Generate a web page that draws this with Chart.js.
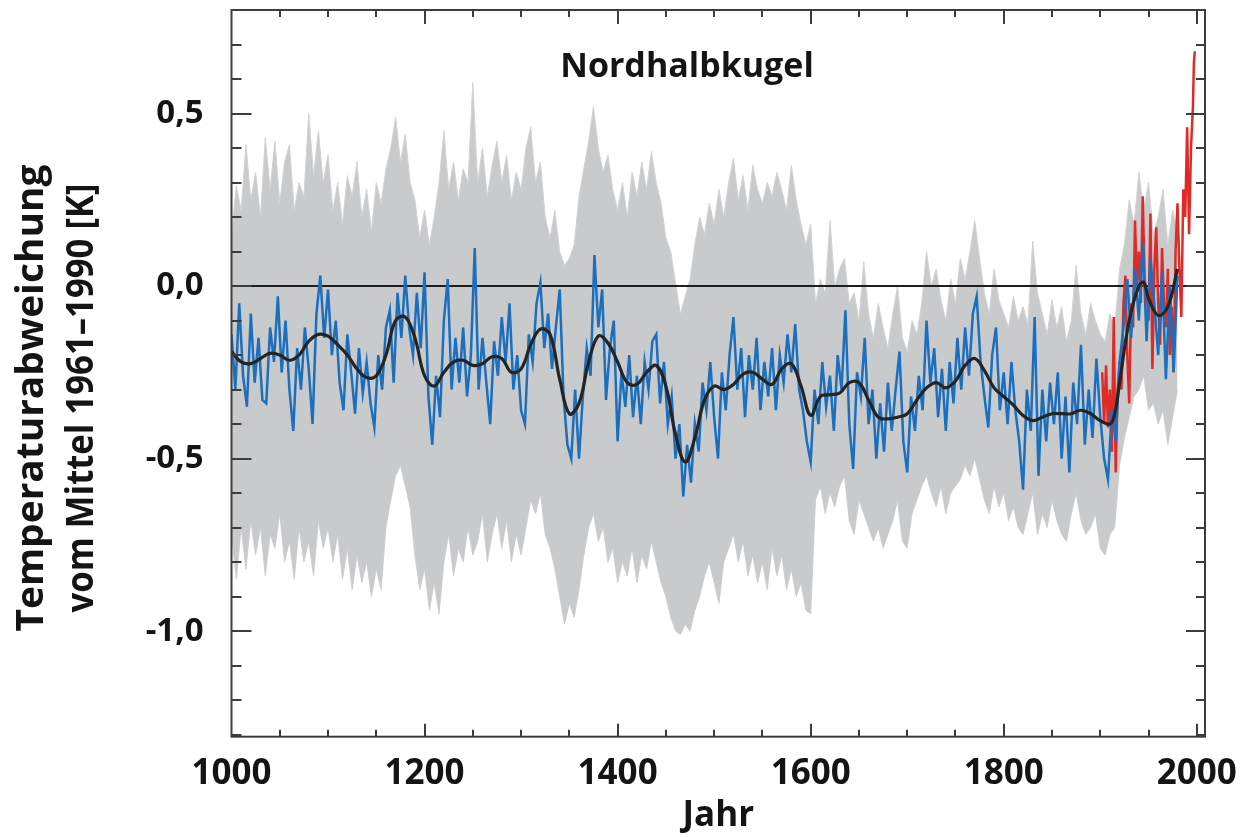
<!DOCTYPE html>
<html><head><meta charset="utf-8">
<script src="https://cdn.jsdelivr.net/npm/chart.js@4.4.0/dist/chart.umd.min.js"></script>
<style>html,body{margin:0;padding:0;background:#fff;overflow:hidden;}</style>
</head><body>
<canvas id="c" width="1252" height="837"></canvas>
<script>
const chartTitle = 'Nordhalbkugel';
const xTitle = 'Jahr';
const yTitleLines = ['Temperaturabweichung', 'vom Mittel 1961–1990 [K]'];
const xTickValues = [1000, 1200, 1400, 1600, 1800, 2000];
const yTickValues = [-1.0, -0.5, 0.0, 0.5];

// Rekonstruktion (blau), alle 4 Jahre ab 1000
const reconStart = 1000, reconStep = 4;
const reconstruction = [
-0.14,-0.30,-0.05,-0.26,-0.35,-0.08,-0.28,-0.15,-0.33,-0.34,-0.12,-0.22,-0.03,-0.25,-0.10,-0.30,-0.42,-0.18,-0.30,-0.12,-0.24,-0.40,-0.08,0.03,-0.15,
-0.01,-0.20,-0.10,-0.28,-0.36,-0.14,-0.25,-0.37,-0.18,-0.31,-0.22,-0.34,-0.41,-0.20,-0.30,-0.12,-0.07,-0.28,-0.02,-0.15,0.03,-0.12,-0.20,-0.02,-0.18,
0.04,-0.32,-0.46,-0.26,-0.38,-0.10,0.02,-0.30,-0.15,-0.28,-0.12,-0.32,-0.20,0.11,-0.30,-0.15,-0.28,-0.40,-0.16,-0.26,-0.09,-0.22,-0.05,-0.30,-0.20,
-0.36,-0.40,-0.14,-0.22,-0.05,0.01,-0.18,-0.08,-0.24,-0.12,-0.01,-0.32,-0.46,-0.50,-0.30,-0.50,-0.32,-0.18,-0.26,0.09,-0.12,-0.01,-0.33,-0.18,-0.10,
-0.45,-0.25,-0.35,-0.20,-0.38,-0.26,-0.40,-0.22,-0.30,-0.16,-0.14,-0.34,-0.22,-0.40,-0.32,-0.50,-0.40,-0.61,-0.46,-0.57,-0.40,-0.48,-0.28,-0.36,-0.22,
-0.38,-0.50,-0.25,-0.36,-0.20,-0.09,-0.30,-0.18,-0.38,-0.20,-0.30,-0.15,-0.36,-0.22,-0.32,-0.18,-0.36,-0.20,-0.28,-0.14,-0.25,-0.11,-0.30,-0.36,-0.45,
-0.51,-0.30,-0.40,-0.22,-0.35,-0.26,-0.42,-0.20,-0.30,-0.07,-0.40,-0.53,-0.25,-0.32,-0.15,-0.40,-0.30,-0.50,-0.34,-0.48,-0.28,-0.42,-0.30,-0.19,-0.45,
-0.54,-0.32,-0.42,-0.26,-0.36,-0.10,-0.28,-0.18,-0.38,-0.24,-0.42,-0.22,-0.34,-0.15,-0.30,-0.12,-0.26,-0.08,-0.03,-0.22,-0.32,-0.41,-0.20,-0.12,-0.36,
-0.25,-0.40,-0.22,-0.36,-0.45,-0.59,-0.30,-0.42,-0.09,-0.55,-0.30,-0.45,-0.28,-0.40,-0.25,-0.50,-0.32,-0.54,-0.28,-0.40,-0.17,-0.46,-0.30,-0.44,-0.21,
-0.38,-0.50,-0.56,-0.36,-0.45,-0.22,-0.12,0.02,-0.15,0.05,-0.10,0.13,-0.16,0.08,-0.05,-0.20,0.04,-0.27,0.00,-0.25,0.03
];

// Unsicherheitsband (grau), alle 5 Jahre ab 1000
const bandStart = 1000, bandStep = 5;
const bandUpper = [
0.15,0.29,0.22,0.41,0.25,0.33,0.20,0.43,0.28,0.42,0.24,0.36,0.41,0.22,0.30,0.26,0.50,0.32,0.45,0.30,
0.38,0.22,0.30,0.18,0.32,0.26,0.36,0.20,0.28,0.16,0.30,0.24,0.34,0.40,0.49,0.36,0.44,0.30,0.25,0.14,
0.22,0.12,0.20,0.30,0.45,0.28,0.36,0.25,0.34,0.30,0.59,0.30,0.40,0.26,0.35,0.42,0.30,0.38,0.25,0.33,
0.28,0.40,0.46,0.30,0.36,0.20,0.14,0.22,0.10,0.06,0.08,0.12,0.26,0.34,0.42,0.52,0.40,0.33,0.38,0.28,
0.22,0.30,0.20,0.33,0.26,0.36,0.28,0.39,0.30,0.24,0.14,0.10,0.01,-0.08,-0.03,0.02,0.12,0.20,0.15,0.24,
0.18,0.28,0.20,0.30,0.37,0.25,0.32,0.22,0.35,0.28,0.24,0.30,0.26,0.33,0.28,0.22,0.35,0.25,0.18,0.12,
0.18,-0.05,0.02,-0.02,0.19,0.00,0.05,0.08,-0.05,-0.02,-0.10,0.07,-0.08,-0.15,-0.05,-0.12,-0.18,-0.08,0.00,-0.15,
-0.19,-0.10,-0.14,-0.05,0.10,0.00,0.05,-0.04,-0.10,0.02,-0.05,0.08,0.02,0.10,0.19,0.08,-0.02,-0.08,0.05,-0.04,
-0.08,-0.12,-0.03,-0.10,-0.06,-0.11,0.13,-0.02,-0.08,-0.14,-0.04,-0.12,-0.06,-0.16,-0.10,0.06,-0.08,-0.14,-0.05,-0.10,
-0.14,-0.16,-0.08,-0.12,0.05,0.12,0.25,0.18,0.33,0.22,0.30,0.15,0.20,0.28,0.12,0.22,0.16
];
const bandLower = [
-0.72,-0.85,-0.70,-0.82,-0.68,-0.78,-0.70,-0.84,-0.72,-0.76,-0.66,-0.80,-0.74,-0.85,-0.70,-0.80,-0.74,-0.84,-0.68,-0.76,
-0.70,-0.80,-0.72,-0.85,-0.76,-0.88,-0.78,-0.86,-0.80,-0.90,-0.82,-0.88,-0.70,-0.62,-0.55,-0.52,-0.58,-0.64,-0.78,-0.88,
-0.82,-0.94,-0.86,-0.95,-0.80,-0.72,-0.84,-0.76,-0.80,-0.70,-0.78,-0.74,-0.66,-0.80,-0.72,-0.66,-0.76,-0.68,-0.80,-0.72,
-0.78,-0.70,-0.62,-0.66,-0.60,-0.72,-0.76,-0.82,-0.90,-0.98,-0.92,-0.96,-0.88,-0.78,-0.70,-0.66,-0.74,-0.70,-0.80,-0.76,
-0.86,-0.80,-0.84,-0.76,-0.86,-0.78,-0.82,-0.74,-0.80,-0.86,-0.90,-0.96,-1.00,-1.01,-0.98,-1.00,-0.94,-0.90,-0.84,-0.80,
-0.86,-0.92,-0.80,-0.76,-0.72,-0.80,-0.74,-0.84,-0.78,-0.86,-0.80,-0.88,-0.76,-0.84,-0.78,-0.88,-0.82,-0.90,-0.86,-0.94,
-0.95,-0.62,-0.58,-0.66,-0.60,-0.64,-0.58,-0.55,-0.68,-0.72,-0.62,-0.66,-0.70,-0.74,-0.70,-0.76,-0.72,-0.68,-0.62,-0.74,
-0.76,-0.66,-0.62,-0.58,-0.55,-0.60,-0.64,-0.58,-0.66,-0.60,-0.58,-0.56,-0.52,-0.55,-0.50,-0.56,-0.62,-0.66,-0.58,-0.64,
-0.60,-0.68,-0.64,-0.70,-0.72,-0.66,-0.60,-0.72,-0.66,-0.70,-0.62,-0.68,-0.72,-0.74,-0.66,-0.60,-0.68,-0.72,-0.70,-0.66,
-0.76,-0.78,-0.72,-0.70,-0.52,-0.44,-0.38,-0.32,-0.30,-0.26,-0.36,-0.34,-0.40,-0.36,-0.46,-0.38,-0.30
];

// Geglättete Kurve (schwarz)
const smoothYears = [1000,1010,1020,1030,1040,1050,1060,1070,1080,1090,1100,1110,1120,1130,1140,1150,1160,1170,1180,1190,
1200,1210,1220,1230,1240,1250,1260,1270,1280,1290,1300,1310,1320,1330,1340,1350,1360,1370,1380,1390,
1400,1410,1420,1430,1440,1450,1460,1470,1480,1490,1500,1510,1520,1530,1540,1550,1560,1570,1580,1590,
1600,1610,1620,1630,1640,1650,1660,1670,1680,1690,1700,1710,1720,1730,1740,1750,1760,1770,1780,1790,
1800,1810,1820,1830,1840,1850,1860,1870,1880,1890,1900,1910,1915,1920,1930,1940,1945,1950,1960,1970,1980];
const smoothValues = [-0.19,-0.22,-0.225,-0.21,-0.195,-0.20,-0.215,-0.20,-0.16,-0.14,-0.145,-0.17,-0.20,-0.24,-0.265,-0.26,-0.20,-0.10,-0.09,-0.15,
-0.26,-0.29,-0.25,-0.22,-0.215,-0.23,-0.225,-0.205,-0.21,-0.25,-0.24,-0.17,-0.125,-0.14,-0.27,-0.37,-0.34,-0.22,-0.145,-0.165,
-0.22,-0.28,-0.285,-0.25,-0.23,-0.29,-0.43,-0.51,-0.44,-0.33,-0.29,-0.30,-0.285,-0.255,-0.25,-0.27,-0.285,-0.24,-0.225,-0.29,
-0.375,-0.32,-0.315,-0.31,-0.28,-0.28,-0.33,-0.38,-0.385,-0.38,-0.37,-0.33,-0.295,-0.28,-0.295,-0.275,-0.23,-0.21,-0.245,-0.295,
-0.32,-0.345,-0.375,-0.39,-0.38,-0.37,-0.37,-0.37,-0.36,-0.37,-0.39,-0.40,-0.37,-0.28,-0.10,0.00,0.01,-0.035,-0.085,-0.06,0.05];

// Instrumentelle Messungen (rot)
const instrYears = [1902,1904,1906,1908,1910,1912,1914,1916,1918,1920,1922,1924,1926,1928,1930,1932,1934,1936,1938,1940,
1942,1944,1946,1948,1950,1952,1954,1956,1958,1960,1962,1964,1966,1968,1970,1972,1974,1976,1978,1980,
1982,1984,1986,1988,1990,1992,1994,1996,1997,1998];
const instrValues = [-0.25,-0.40,-0.23,-0.41,-0.30,-0.48,-0.09,-0.54,-0.30,-0.22,-0.30,-0.05,0.03,-0.20,-0.34,-0.05,-0.12,0.19,0.00,0.10,
-0.05,0.26,0.02,-0.02,-0.10,0.21,-0.24,0.05,0.17,-0.05,-0.17,0.11,-0.05,-0.12,0.05,-0.20,-0.06,-0.25,0.10,0.24,
0.05,-0.09,0.28,0.20,0.46,0.15,0.40,0.52,0.65,0.68];

const FONT = '"Open Sans", "DejaVu Sans", sans-serif';
const X_MIN = 1000, X_MAX = 2008.5, Y_MIN = -1.306, Y_MAX = 0.8;

function seriesFromStep(start, step, vals) { return vals.map((v, i) => ({ x: start + i * step, y: v })); }
function seriesFromPairs(xs, ys) { return xs.map((x, i) => ({ x: x, y: ys[i] })); }

const decorPlugin = {
  id: 'decor',
  afterDraw(chart) {
    const ctx = chart.ctx, a = chart.chartArea, xs = chart.scales.x, ys = chart.scales.y;
    ctx.save();
    ctx.strokeStyle = '#3c3c3c';
    ctx.lineWidth = 2;
    ctx.strokeRect(a.left, a.top, a.right - a.left, a.bottom - a.top);
    ctx.beginPath();
    for (let yr = 1050; yr < X_MAX; yr += 50) {
      const px = Math.round(xs.getPixelForValue(yr));
      const major = yr % 200 === 0;
      ctx.moveTo(px, a.bottom); ctx.lineTo(px, a.bottom - (major ? 13 : 7));
      ctx.moveTo(px, a.top); ctx.lineTo(px, a.top + (major ? 14 : 7));
    }
    for (let k = -13; k <= 8; k++) {
      const v = k / 10;
      const py = Math.round(ys.getPixelForValue(v));
      if (py <= a.top + 1 || py >= a.bottom - 1) continue;
      const major = k % 5 === 0;
      ctx.moveTo(a.left, py); ctx.lineTo(a.left + (major ? 20 : 10), py);
      ctx.moveTo(a.right, py); ctx.lineTo(a.right - (major ? 19 : 9), py);
    }
    ctx.stroke();

    ctx.fillStyle = '#141414';
    ctx.textAlign = 'center';
    ctx.textBaseline = 'alphabetic';
    ctx.font = 'bold 34px ' + FONT;
    ctx.fillText(chartTitle, 687, 77);

    ctx.font = 'bold 35px ' + FONT;
    ctx.fillText(xTitle, (a.left + a.right) / 2, 826);

    // y axis title, two rotated lines fitted to the reference lengths
    const targets = [[43, 467], [93, 429]];
    ctx.font = 'bold 38px ' + FONT;
    yTitleLines.forEach((t, i) => {
      const w = ctx.measureText(t).width;
      ctx.save();
      ctx.translate(targets[i][0], 398);
      ctx.rotate(-Math.PI / 2);
      ctx.scale(targets[i][1] / w, 1);
      ctx.fillText(t, 0, 0);
      ctx.restore();
    });
    ctx.restore();
  }
};

new Chart(document.getElementById('c'), {
  type: 'line',
  data: {
    datasets: [
      { data: seriesFromPairs(smoothYears, smoothValues), borderColor: '#242424', borderWidth: 3.2, pointRadius: 0, tension: 0.4, fill: false },
      { data: seriesFromStep(reconStart, reconStep, reconstruction), borderColor: '#1c6fbd', borderWidth: 2.5, pointRadius: 0, tension: 0, fill: false },
      { data: seriesFromPairs(instrYears, instrValues), borderColor: '#de2b27', borderWidth: 2.5, pointRadius: 0, tension: 0, fill: false },
      { data: [{ x: X_MIN, y: 0 }, { x: X_MAX, y: 0 }], borderColor: '#1e1e1e', borderWidth: 2, pointRadius: 0, fill: false },
      { data: seriesFromStep(bandStart, bandStep, bandUpper), borderColor: '#d2d3d5', borderWidth: 1, pointRadius: 0, tension: 0, backgroundColor: '#c9cacc', fill: '+1' },
      { data: seriesFromStep(bandStart, bandStep, bandLower), borderColor: '#d2d3d5', borderWidth: 1, pointRadius: 0, tension: 0, fill: false }
    ]
  },
  options: {
    responsive: false,
    animation: false,
    devicePixelRatio: 1,
    layout: { padding: { left: 0, right: 47, top: 10, bottom: 0 } },
    plugins: { legend: { display: false }, tooltip: { enabled: false }, title: { display: false } },
    scales: {
      x: {
        type: 'linear', min: X_MIN, max: X_MAX,
        grid: { display: false, drawTicks: false },
        border: { display: false },
        afterBuildTicks: s => { s.ticks = xTickValues.map(v => ({ value: v })); },
        afterFit: s => { s.height = 100.3; s.paddingLeft = 0; s.paddingRight = 0; },
        ticks: { callback: v => String(v), autoSkip: false, maxRotation: 0, padding: 16, color: '#141414', font: { family: FONT, size: 35, weight: 'bold' } }
      },
      y: {
        type: 'linear', min: Y_MIN, max: Y_MAX,
        grid: { display: false, drawTicks: false },
        border: { display: false },
        afterBuildTicks: s => { s.ticks = yTickValues.map(v => ({ value: v })); },
        afterFit: s => { s.width = 231.5; s.paddingTop = 0; s.paddingBottom = 0; },
        ticks: { callback: v => v.toFixed(1).replace('.', ','), padding: 28, color: '#141414', font: { family: FONT, size: 33, weight: 'bold' } }
      }
    }
  },
  plugins: [decorPlugin]
});
</script>
</body></html>
